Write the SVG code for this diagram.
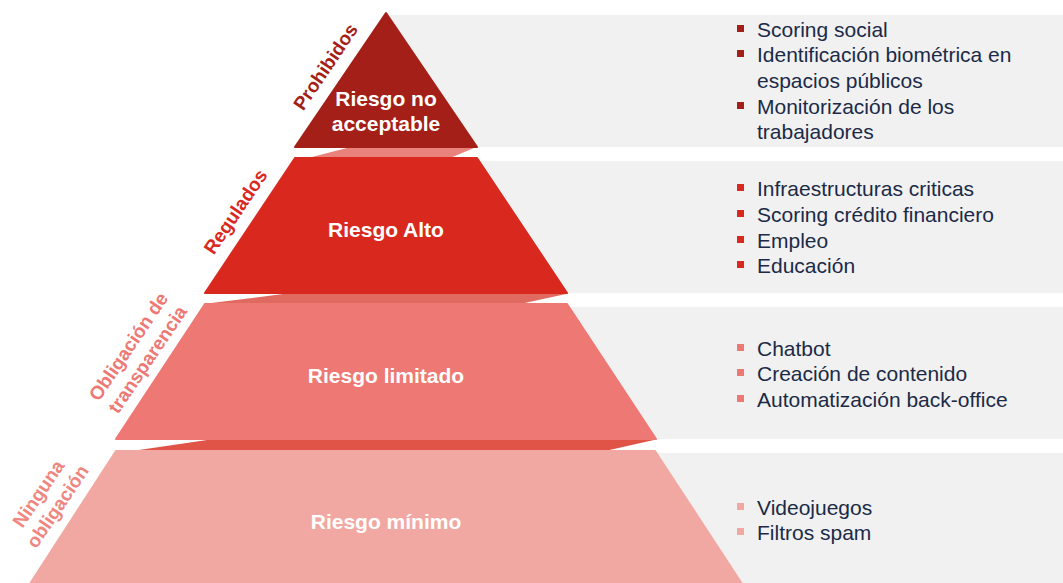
<svg xmlns="http://www.w3.org/2000/svg" width="1063" height="583" viewBox="0 0 1063 583">
<style>
.panel{fill:#F1F1F1}
.tier{stroke-linejoin:round;stroke-width:2}
.t1{fill:#A31F17;stroke:#A31F17}
.t2{fill:#D9291E;stroke:#D9291E}
.t3{fill:#EE7873;stroke:#EE7873}
.t4{fill:#F2A8A2;stroke:#F2A8A2}
.lbl{font-family:"Liberation Sans",Arial,sans-serif;font-weight:bold;font-size:21px;fill:#FFFFFF;text-anchor:middle}
.side{font-family:"Liberation Sans",Arial,sans-serif;font-weight:bold;font-size:19px;text-anchor:middle}
.item{font-family:"Liberation Sans",Arial,sans-serif;font-size:21px;fill:#1B2A47}
</style>
<rect width="1063" height="583" fill="#FFFFFF"/>
<g id="panels">
<rect class="panel" x="390" y="15" width="673" height="132"/>
<rect class="panel" x="390" y="161" width="673" height="132"/>
<rect class="panel" x="390" y="307" width="673" height="132"/>
<rect class="panel" x="390" y="453" width="673" height="130"/>
</g>
<g id="connectors">
<polygon points="347,148 474,148 450,158 308,158" fill="#E8827A"/>
<polygon points="283,294 566,294 520,304 203,304" fill="#E06A60"/>
<polygon points="207,440 654,440 605,451 132,451" fill="#E05448"/>
</g>
<g id="tier-prohibidos">
<polygon class="tier t1" points="386,13 477,147 295,147"/>
<text class="lbl" x="386" y="106">Riesgo no</text>
<text class="lbl" x="386" y="131">acceptable</text>
<text class="side" fill="#A31F17" transform="translate(326,67) rotate(-56)" y="6">Prohibidos</text>
</g>
<g id="tier-regulados">
<polygon class="tier t2" points="295,158 477,158 567,293 205,293"/>
<text class="lbl" x="386" y="237">Riesgo Alto</text>
<text class="side" fill="#D9291E" transform="translate(236,212) rotate(-56)" y="6">Regulados</text>
</g>
<g id="tier-transparencia">
<polygon class="tier t3" points="205,304 567,304 656,439 116,439"/>
<text class="lbl" x="386" y="383">Riesgo limitado</text>
<text class="side" fill="#EE7873" transform="translate(138,353) rotate(-56)"><tspan x="0" y="-5">Obligación de</tspan><tspan x="0" y="18">transparencia</tspan></text>
</g>
<g id="tier-ninguna">
<polygon class="tier t4" points="116,451 655,451 746,590 26,590"/>
<text class="lbl" x="386" y="529">Riesgo mínimo</text>
<text class="side" fill="#EF8680" transform="translate(48,500) rotate(-56)"><tspan x="0" y="-5">Ninguna</tspan><tspan x="0" y="18">obligación</tspan></text>
</g>
<g id="list-prohibidos">
<rect x="737" y="25" width="7" height="7" fill="#A31F17"/>
<rect x="737" y="50" width="7" height="7" fill="#A31F17"/>
<rect x="737" y="102" width="7" height="7" fill="#A31F17"/>
<text class="item" x="757" y="37">Scoring social</text>
<text class="item" x="757" y="62">Identificación biométrica en</text>
<text class="item" x="757" y="88">espacios públicos</text>
<text class="item" x="757" y="114">Monitorización de los</text>
<text class="item" x="757" y="139">trabajadores</text>
</g>
<g id="list-regulados">
<rect x="737" y="184" width="7" height="7" fill="#D9291E"/>
<rect x="737" y="210" width="7" height="7" fill="#D9291E"/>
<rect x="737" y="236" width="7" height="7" fill="#D9291E"/>
<rect x="737" y="261" width="7" height="7" fill="#D9291E"/>
<text class="item" x="757" y="196">Infraestructuras criticas</text>
<text class="item" x="757" y="222">Scoring crédito financiero</text>
<text class="item" x="757" y="248">Empleo</text>
<text class="item" x="757" y="273">Educación</text>
</g>
<g id="list-transparencia">
<rect x="737" y="344" width="7" height="7" fill="#EE7873"/>
<rect x="737" y="369" width="7" height="7" fill="#EE7873"/>
<rect x="737" y="395" width="7" height="7" fill="#EE7873"/>
<text class="item" x="757" y="356">Chatbot</text>
<text class="item" x="757" y="381">Creación de contenido</text>
<text class="item" x="757" y="407">Automatización back-office</text>
</g>
<g id="list-ninguna">
<rect x="737" y="503" width="7" height="7" fill="#F2A8A2"/>
<rect x="737" y="528" width="7" height="7" fill="#F2A8A2"/>
<text class="item" x="757" y="515">Videojuegos</text>
<text class="item" x="757" y="540">Filtros spam</text>
</g>
</svg>
